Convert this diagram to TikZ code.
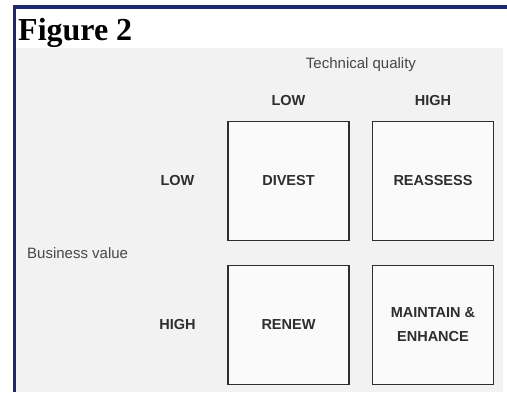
\documentclass[tikz,border=0pt]{standalone}
\usepackage{fontspec}
\setmainfont{Liberation Sans}
\newfontfamily\figfont{Liberation Serif}
\usepackage{tikz}
\usetikzlibrary{positioning}
\definecolor{navy}{HTML}{1B2B6E}
\definecolor{panel}{HTML}{F2F2F2}
\definecolor{ink}{HTML}{2E2E2E}
\tikzstyle{cell} = [draw=ink, fill=white!60!panel, line width=1.4pt, minimum width=121pt, minimum height=119pt, inner sep=0pt, align=center, font=\fontsize{14.5}{24}\selectfont\bfseries, text=ink]
\tikzstyle{level} = [inner sep=0pt, font=\fontsize{14.5}{17}\selectfont\bfseries, text=ink]
\tikzstyle{axis} = [inner sep=0pt, font=\fontsize{15}{18}\selectfont, text=black!72]

\begin{document}
\begin{tikzpicture}[x=1pt, y=1pt]
		\useasboundingbox (0,0) rectangle (507,392);
		\fill [white] (0,0) rectangle (507,392);
		\fill [panel] (16,0) rectangle (503,344);
		\draw [navy, line width=3.5pt] (14.5,0) -- (14.5,385) -- (507,385);
		\node [anchor=base west, inner sep=0pt, font=\figfont\fontsize{32}{36}\selectfont\bfseries] (fig) at (18,352) {Figure 2};
		
		\node [cell] (divest) at (288.5,211) {DIVEST};
		\node [cell, right of=divest, node distance=144.5pt] (reassess) {REASSESS};
		\node [cell, below of=divest, node distance=144pt] (renew) {RENEW};
		\node [cell, below of=reassess, node distance=144pt] (maintain) {MAINTAIN \&\\ENHANCE};
		
		\node [level, above of=divest, node distance=80pt] (collow) {LOW};
		\node [level, above of=reassess, node distance=80pt] (colhigh) {HIGH};
		\node [level, left of=divest, node distance=111pt] (rowlow) {LOW};
		\node [level, left of=renew, node distance=111pt] (rowhigh) {HIGH};
		
		\node [axis] (tech) at (361,327) {Technical quality};
		\node [axis, anchor=west] (business) at (27,139) {Business value};
		
		\end{tikzpicture}
\end{document}
